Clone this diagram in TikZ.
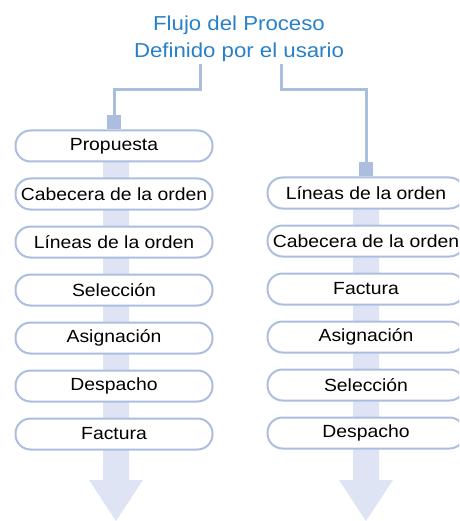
\documentclass[tikz,border=0pt]{standalone}
\usepackage{fontspec}
\setmainfont{Liberation Sans}[FakeStretch=1.1]
\usetikzlibrary{positioning}
\definecolor{azul}{RGB}{40,128,200}
\definecolor{lineacol}{RGB}{172,190,224}
\definecolor{bandacol}{RGB}{222,228,243}
\tikzset{
    paso/.style={draw=lineacol, line width=2pt, fill=white, rounded corners=15pt,
        minimum width=197pt, minimum height=31pt, inner sep=0pt,
        font=\fontsize{17.6}{20}\selectfont},
    enlace/.style={draw=lineacol, line width=3pt},
    titulo/.style={text=azul, align=center, font=\fontsize{20.2}{27}\selectfont}
}
\begin{document}
\begin{tikzpicture}[x=1pt, y=-1pt]
    \useasboundingbox (0,0) rectangle (459,521);
    \clip (0,0) rectangle (459,521);
    % flechas de fondo
    \foreach \c/\t in {116/146, 366/193}{
    \fill[bandacol] (\c-13,\t) -- (\c-13,480) -- (\c-27,480) -- (\c,521)
        -- (\c+27,480) -- (\c+13,480) -- (\c+13,\t) -- cycle;}
    \node[titulo] (titulo) at (239,39) {Flujo del Proceso\\Definido por el usario};
    % columna izquierda
    \node[paso] (l1) at (114,146) {Propuesta};
    \node[paso, below=15pt of l1] (l2) {Cabecera de la orden};
    \node[paso, below=15pt of l2] (l3) {L\'ineas de la orden};
    \node[paso, below=15pt of l3] (l4) {Selecci\'on};
    \node[paso, below=15pt of l4] (l5) {Asignaci\'on};
    \node[paso, below=15pt of l5] (l6) {Despacho};
    \node[paso, below=15pt of l6] (l7) {Factura};
    % columna derecha
    \node[paso] (r1) at (366,193) {L\'ineas de la orden};
    \node[paso, below=15pt of r1] (r2) {Cabecera de la orden};
    \node[paso, below=15pt of r2] (r3) {Factura};
    \node[paso, below=15pt of r3] (r4) {Asignaci\'on};
    \node[paso, below=15pt of r4] (r5) {Selecci\'on};
    \node[paso, below=15pt of r5] (r6) {Despacho};
    % enlaces
    \coordinate (ti) at (200,64);
    \coordinate (td) at (281,64);
    \draw[enlace] (ti) -- ++(0,26) -| (l1.north);
    \draw[enlace] (td) -- ++(0,26) -| (r1.north);
    \fill[lineacol] ([xshift=-7pt]l1.north) rectangle ++(14,-14);
    \fill[lineacol] ([xshift=-7pt]r1.north) rectangle ++(14,-14);
\end{tikzpicture}
\end{document}
